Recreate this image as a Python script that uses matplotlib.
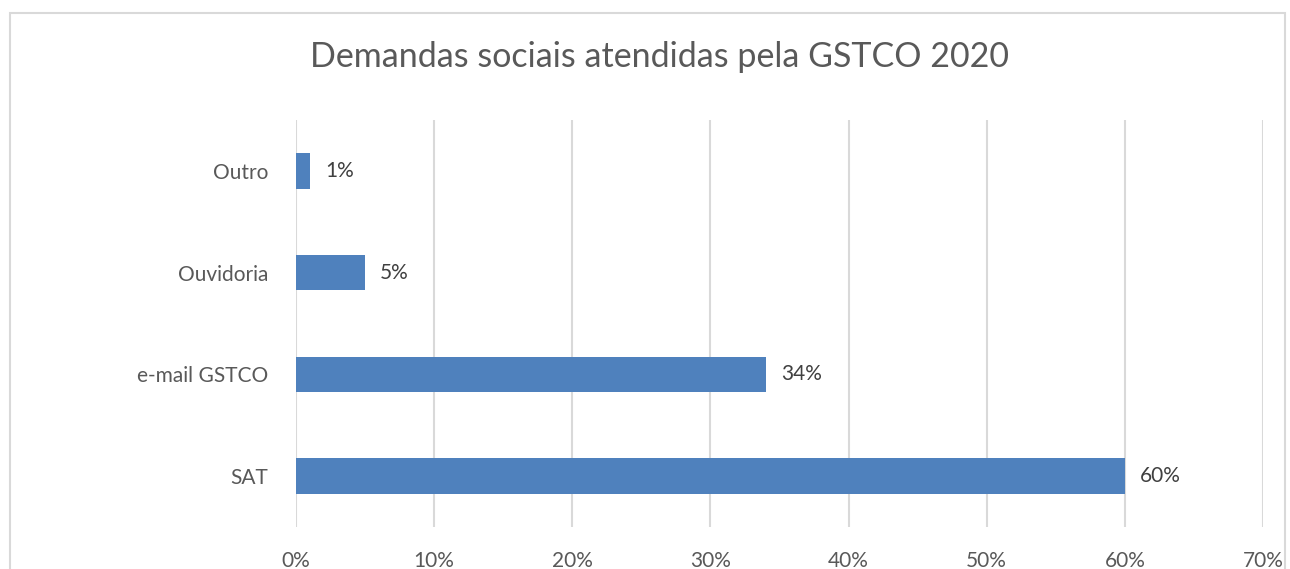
import matplotlib.pyplot as plt
from matplotlib.patches import Rectangle

categorias = ["SAT", "e-mail GSTCO", "Ouvidoria", "Outro"]
valores = [60, 34, 5, 1]
ticks_x = [0, 10, 20, 30, 40, 50, 60, 70]

plt.rcParams['font.family'] = ['Lato', 'DejaVu Sans']

fig = plt.figure(figsize=(12.9, 5.69), dpi=100)
ax = fig.add_axes([296 / 1290, 1 - 527 / 569, (1263 - 296) / 1290, (527 - 120) / 569])

# borda do grafico estilo excel
fig.patches.append(Rectangle((10 / 1290, -0.1), (1285 - 10) / 1290, 1.1 - 13 / 569,
                             transform=fig.transFigure, fill=False,
                             edgecolor="#d9d9d9", linewidth=1.5))

y = range(len(categorias))
ax.barh(y, valores, height=0.35, color="#4F81BD", zorder=3)

for i, v in enumerate(valores):
    ax.text(v + 1.1, i, f"{v}%", va="center", ha="left", fontsize=15, color="#404040")

ax.set_xlim(0, 70)
ax.set_ylim(-0.5, 3.5)
ax.set_xticks(ticks_x)
ax.set_xticklabels([f"{t}%" for t in ticks_x])
ax.set_yticks(list(y))
ax.set_yticklabels(categorias)
ax.grid(axis="x", color="#d9d9d9", linewidth=1.5, zorder=0)
for s in ax.spines.values():
    s.set_visible(False)
ax.tick_params(axis="x", length=0, pad=17, labelsize=15, labelcolor="#595959")
ax.tick_params(axis="y", length=0, pad=20, labelsize=15, labelcolor="#595959")

fig.text(659 / 1290, 1 - 57 / 569, "Demandas sociais atendidas pela GSTCO 2020",
         ha="center", va="center", fontsize=24.5, color="#595959")

fig.savefig("out.png", dpi=100)
